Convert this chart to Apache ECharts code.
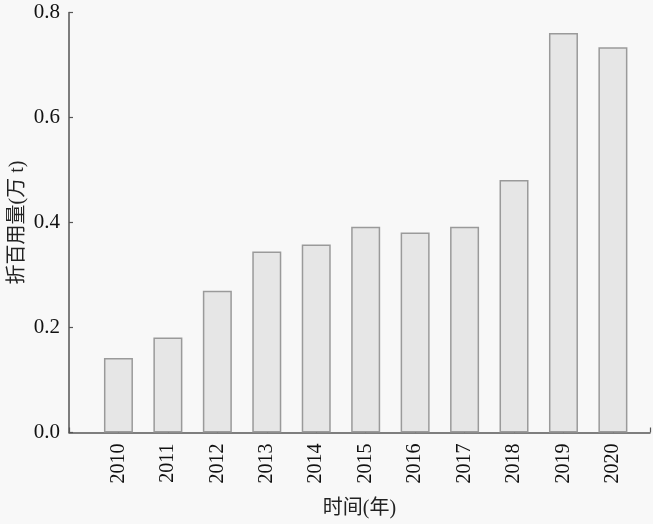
<!DOCTYPE html>
<html><head><meta charset="utf-8">
<script src="https://cdn.jsdelivr.net/npm/echarts@6/dist/echarts.min.js"></script>
<style>html,body{margin:0;padding:0;background:#f8f8f8;}#c{width:653px;height:524px;}</style>
</head><body><div id="c"></div>
<script>
var years = [2010, 2011, 2012, 2013, 2014, 2015, 2016, 2017, 2018, 2019, 2020];
var values = [0.142, 0.181, 0.270, 0.345, 0.358, 0.392, 0.381, 0.392, 0.481, 0.761, 0.734];
var yTicks = [0.0, 0.2, 0.4, 0.6, 0.8];
var xName = '时间(年)';
var yName = '折百用量(万 t)';

var chart = echarts.init(document.getElementById('c'), null, {renderer: 'canvas'});
var serif = '"Liberation Serif", "Times New Roman", serif';
var cjk = '"Liberation Serif", "Noto Sans CJK SC", serif';
chart.setOption({
  backgroundColor: '#f8f8f8',
  animation: false,
  grid: {left: 69, right: 3, top: 12.5, bottom: 91.5, containLabel: false, outerBoundsMode: 'none'},
  xAxis: {
    type: 'value', min: 2009, max: 2020.75, interval: 1,
    name: xName, nameLocation: 'middle', nameGap: 66, nameMoveOverlap: false,
    nameTextStyle: {fontFamily: cjk, fontSize: 20, color: '#222'},
    axisLine: {show: true, lineStyle: {color: '#555', width: 1.5}},
    axisTick: {show: true, inside: true, length: 5, lineStyle: {color: '#555', width: 1.2}},
    axisLabel: {rotate: 90, margin: 11, fontFamily: serif, fontSize: 20, color: '#111',
      formatter: function (v) { return years.indexOf(v) >= 0 ? String(v) : ''; }},
    splitLine: {show: false}
  },
  yAxis: {
    type: 'value', min: yTicks[0], max: yTicks[yTicks.length - 1], interval: 0.2,
    name: yName, nameLocation: 'middle', nameGap: 41, nameRotate: 90, nameMoveOverlap: false,
    nameTextStyle: {fontFamily: cjk, fontSize: 20, color: '#222'},
    axisLine: {show: true, lineStyle: {color: '#555', width: 1.5}},
    axisTick: {show: true, inside: true, length: 4, lineStyle: {color: '#555', width: 1.2}},
    axisLabel: {margin: 9, fontFamily: serif, fontSize: 21, color: '#111',
      formatter: function (v) { return v.toFixed(1); }},
    splitLine: {show: false}
  },
  series: [{
    type: 'bar',
    barWidth: 29,
    data: years.map(function (y, i) { return [y, values[i]]; }),
    itemStyle: {color: '#e6e6e6', borderColor: '#9a9a9a', borderWidth: 1.5}
  }]
});
</script></body></html>
